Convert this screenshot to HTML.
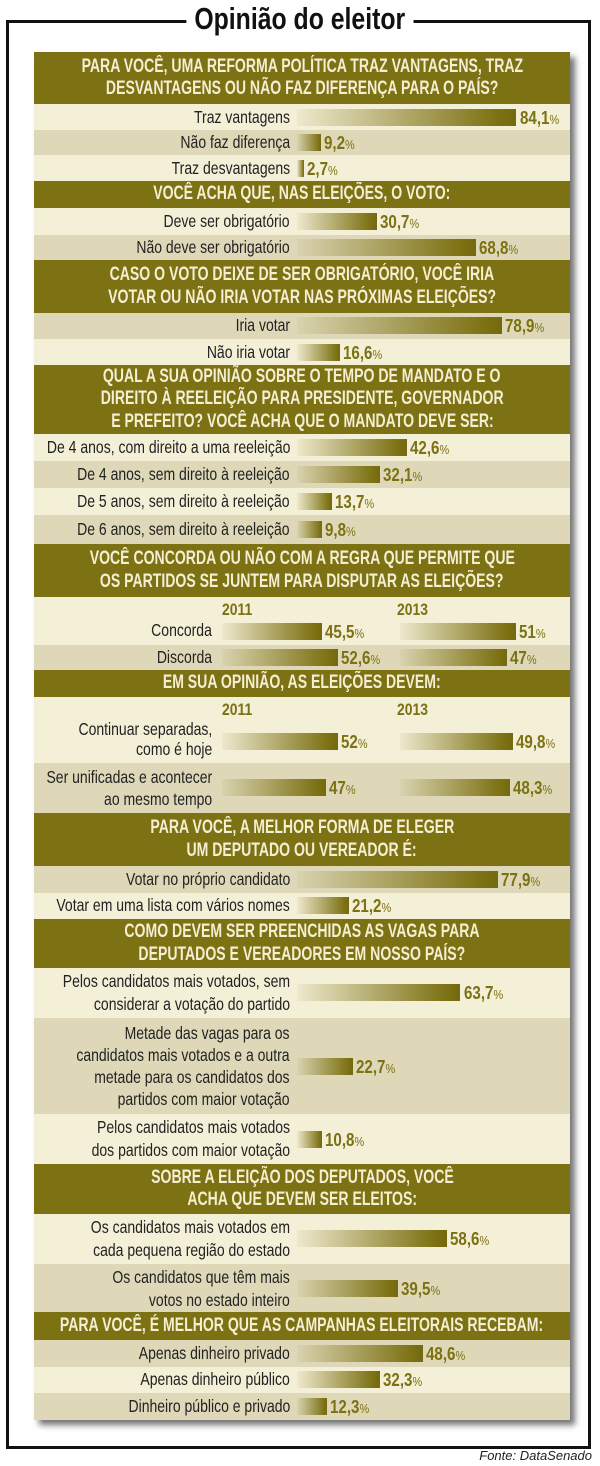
<!DOCTYPE html>
<html><head><meta charset="utf-8"><style>
*{margin:0;padding:0;box-sizing:border-box}
body{width:600px;height:1466px;background:#fff;position:relative;overflow:hidden;font-family:"Liberation Sans",sans-serif}
.frame{position:absolute;left:6px;top:20px;width:585px;height:1429px;border:3px solid #111}
.title{position:absolute;left:0;width:600px;top:1px;text-align:center;height:36px}
.title span{display:inline-block;background:#fff;padding:0 10px;font-weight:bold;font-size:31px;color:#111;line-height:36px;transform:scaleX(.8)}
.panel{position:absolute;left:34px;top:52px;width:536px;height:1368px;box-shadow:5px 5px 6px rgba(0,0,0,.55);overflow:visible}
.h{position:absolute;left:0;width:536px;background:#7c7113;color:#f4eed2;font-weight:bold;font-size:19px;text-align:center;display:flex;flex-direction:column;justify-content:center;align-items:center;line-height:22.5px;white-space:nowrap;overflow:hidden}
.h span{display:block;transform:scaleX(.74)}
.r{position:absolute;left:0;width:536px}
.L{background:#f4efd7}.D{background:#ded8b8}
.lab{position:absolute;right:280px;text-align:right;font-size:17.5px;color:#222;line-height:22.5px;white-space:nowrap;transform:scaleX(.8);transform-origin:right center}
.lab2{right:358px}
.bar{position:absolute;height:17px;background:linear-gradient(to right,rgba(124,113,19,0.05),#7c7113 92%,#74690f)}
.p{position:absolute;font-weight:bold;font-size:18px;color:#7c7113;line-height:17px;white-space:nowrap;transform:scaleX(.84);transform-origin:left center}
.p small{font-size:13px;font-weight:normal}
.yr{position:absolute;font-weight:bold;font-size:17px;color:#7c7113;line-height:18px;transform:scaleX(.82);transform-origin:left center}
.src{position:absolute;right:8px;top:1448px;font-size:13px;font-style:italic;color:#222}
</style></head><body>
<div class="frame"></div>
<div class="title"><span>Opinião do eleitor</span></div>
<div class="panel">
<div class="h" style="top:0;height:52px"><span>PARA VOCÊ, UMA REFORMA POLÍTICA TRAZ VANTAGENS, TRAZ</span><span>DESVANTAGENS OU NÃO FAZ DIFERENÇA PARA O PAÍS?</span></div>
<div class="r L" style="top:52px;height:26px"><div class="lab" style="top:2px">Traz vantagens</div><div class="bar" style="left:263px;top:5px;width:219px"></div><div class="p" style="left:486px;top:6px">84,1<small>%</small></div></div>
<div class="r D" style="top:78px;height:25px"><div class="lab" style="top:1px">Não faz diferença</div><div class="bar" style="left:263px;top:4px;width:24px"></div><div class="p" style="left:290px;top:5px">9,2<small>%</small></div></div>
<div class="r L" style="top:103px;height:26px"><div class="lab" style="top:2px">Traz desvantagens</div><div class="bar" style="left:263px;top:5px;width:7px"></div><div class="p" style="left:273px;top:6px">2,7<small>%</small></div></div>
<div class="h" style="top:129px;height:27px"><span>VOCÊ ACHA QUE, NAS ELEIÇÕES, O VOTO:</span></div>
<div class="r L" style="top:156px;height:27px"><div class="lab" style="top:2px">Deve ser obrigatório</div><div class="bar" style="left:263px;top:5px;width:80px"></div><div class="p" style="left:346px;top:6px">30,7<small>%</small></div></div>
<div class="r D" style="top:183px;height:25px"><div class="lab" style="top:1px">Não deve ser obrigatório</div><div class="bar" style="left:263px;top:4px;width:179px"></div><div class="p" style="left:445px;top:5px">68,8<small>%</small></div></div>
<div class="h" style="top:208px;height:53px"><span>CASO O VOTO DEIXE DE SER OBRIGATÓRIO, VOCÊ IRIA</span><span>VOTAR OU NÃO IRIA VOTAR NAS PRÓXIMAS ELEIÇÕES?</span></div>
<div class="r D" style="top:261px;height:26px"><div class="lab" style="top:1px">Iria votar</div><div class="bar" style="left:263px;top:4px;width:205px"></div><div class="p" style="left:471px;top:5px">78,9<small>%</small></div></div>
<div class="r L" style="top:287px;height:26px"><div class="lab" style="top:2px">Não iria votar</div><div class="bar" style="left:263px;top:5px;width:43px"></div><div class="p" style="left:309px;top:6px">16,6<small>%</small></div></div>
<div class="h" style="top:313px;height:69px"><span>QUAL A SUA OPINIÃO SOBRE O TEMPO DE MANDATO E O</span><span>DIREITO À REELEIÇÃO PARA PRESIDENTE, GOVERNADOR</span><span>E PREFEITO? VOCÊ ACHA QUE O MANDATO DEVE SER:</span></div>
<div class="r L" style="top:382px;height:27px"><div class="lab" style="top:2px">De 4 anos, com direito a uma reeleição</div><div class="bar" style="left:263px;top:5px;width:110px"></div><div class="p" style="left:376px;top:6px">42,6<small>%</small></div></div>
<div class="r D" style="top:409px;height:27px"><div class="lab" style="top:2px">De 4 anos, sem direito à reeleição</div><div class="bar" style="left:263px;top:5px;width:83px"></div><div class="p" style="left:349px;top:6px">32,1<small>%</small></div></div>
<div class="r L" style="top:436px;height:27px"><div class="lab" style="top:2px">De 5 anos, sem direito à reeleição</div><div class="bar" style="left:263px;top:5px;width:35px"></div><div class="p" style="left:301px;top:6px">13,7<small>%</small></div></div>
<div class="r D" style="top:463px;height:29px"><div class="lab" style="top:3px">De 6 anos, sem direito à reeleição</div><div class="bar" style="left:263px;top:6px;width:25px"></div><div class="p" style="left:291px;top:7px">9,8<small>%</small></div></div>
<div class="h" style="top:492px;height:53px"><span>VOCÊ CONCORDA OU NÃO COM A REGRA QUE PERMITE QUE</span><span>OS PARTIDOS SE JUNTEM PARA DISPUTAR AS ELEIÇÕES?</span></div>
<div class="r L" style="top:545px;height:48px"><div class="yr" style="left:188px;top:4px">2011</div><div class="yr" style="left:363px;top:4px">2013</div><div class="lab lab2" style="top:22px">Concorda</div><div class="bar" style="left:188px;top:26px;width:100px"></div><div class="p" style="left:291px;top:27px">45,5<small>%</small></div><div class="bar" style="left:366px;top:26px;width:116px"></div><div class="p" style="left:485px;top:27px">51<small>%</small></div></div>
<div class="r D" style="top:593px;height:25px"><div class="lab lab2" style="top:1px">Discorda</div><div class="bar" style="left:188px;top:4px;width:116px"></div><div class="p" style="left:307px;top:5px">52,6<small>%</small></div><div class="bar" style="left:366px;top:4px;width:107px"></div><div class="p" style="left:476px;top:5px">47<small>%</small></div></div>
<div class="h" style="top:618px;height:27px"><span>EM SUA OPINIÃO, AS ELEIÇÕES DEVEM:</span></div>
<div class="r L" style="top:645px;height:66px"><div class="yr" style="left:188px;top:4px">2011</div><div class="yr" style="left:363px;top:4px">2013</div><div class="lab lab2" style="top:22px;line-height:20px">Continuar separadas,<br>como é hoje</div><div class="bar" style="left:188px;top:36px;width:116px"></div><div class="p" style="left:307px;top:37px">52<small>%</small></div><div class="bar" style="left:366px;top:36px;width:113px"></div><div class="p" style="left:482px;top:37px">49,8<small>%</small></div></div>
<div class="r D" style="top:711px;height:50px"><div class="lab lab2" style="top:3px;line-height:22px">Ser unificadas e acontecer<br>ao mesmo tempo</div><div class="bar" style="left:188px;top:16px;width:104px"></div><div class="p" style="left:295px;top:17px">47<small>%</small></div><div class="bar" style="left:366px;top:16px;width:110px"></div><div class="p" style="left:479px;top:17px">48,3<small>%</small></div></div>
<div class="h" style="top:761px;height:53px"><span>PARA VOCÊ, A MELHOR FORMA DE ELEGER</span><span>UM DEPUTADO OU VEREADOR É:</span></div>
<div class="r D" style="top:814px;height:27px"><div class="lab" style="top:2px">Votar no próprio candidato</div><div class="bar" style="left:263px;top:5px;width:201px"></div><div class="p" style="left:467px;top:6px">77,9<small>%</small></div></div>
<div class="r L" style="top:841px;height:26px"><div class="lab" style="top:1px">Votar em uma lista com vários nomes</div><div class="bar" style="left:263px;top:4px;width:52px"></div><div class="p" style="left:318px;top:5px">21,2<small>%</small></div></div>
<div class="h" style="top:867px;height:49px"><span>COMO DEVEM SER PREENCHIDAS AS VAGAS PARA</span><span>DEPUTADOS E VEREADORES EM NOSSO PAÍS?</span></div>
<div class="r L" style="top:916px;height:50px"><div class="lab" style="top:2px">Pelos candidatos mais votados, sem<br>considerar a votação do partido</div><div class="bar" style="left:263px;top:16px;width:163px"></div><div class="p" style="left:430px;top:17px">63,7<small>%</small></div></div>
<div class="r D" style="top:966px;height:96px"><div class="lab" style="top:4px;line-height:22px">Metade das vagas para os<br>candidatos mais votados e a outra<br>metade para os candidatos dos<br>partidos com maior votação</div><div class="bar" style="left:263px;top:40px;width:56px"></div><div class="p" style="left:322px;top:41px">22,7<small>%</small></div></div>
<div class="r L" style="top:1062px;height:50px"><div class="lab" style="top:2px">Pelos candidatos mais votados<br>dos partidos com maior votação</div><div class="bar" style="left:263px;top:17px;width:25px"></div><div class="p" style="left:291px;top:18px">10,8<small>%</small></div></div>
<div class="h" style="top:1112px;height:50px"><span>SOBRE A ELEIÇÃO DOS DEPUTADOS, VOCÊ</span><span>ACHA QUE DEVEM SER ELEITOS:</span></div>
<div class="r L" style="top:1162px;height:50px"><div class="lab" style="top:2px">Os candidatos mais votados em<br>cada pequena região do estado</div><div class="bar" style="left:263px;top:16px;width:150px"></div><div class="p" style="left:416px;top:17px">58,6<small>%</small></div></div>
<div class="r D" style="top:1212px;height:48px"><div class="lab" style="top:2px">Os candidatos que têm mais<br>votos no estado inteiro</div><div class="bar" style="left:263px;top:16px;width:101px"></div><div class="p" style="left:367px;top:17px">39,5<small>%</small></div></div>
<div class="h" style="top:1260px;height:28px"><span>PARA VOCÊ, É MELHOR QUE AS CAMPANHAS ELEITORAIS RECEBAM:</span></div>
<div class="r D" style="top:1288px;height:27px"><div class="lab" style="top:2px">Apenas dinheiro privado</div><div class="bar" style="left:263px;top:5px;width:126px"></div><div class="p" style="left:392px;top:6px">48,6<small>%</small></div></div>
<div class="r L" style="top:1315px;height:26px"><div class="lab" style="top:1px">Apenas dinheiro público</div><div class="bar" style="left:263px;top:4px;width:83px"></div><div class="p" style="left:349px;top:5px">32,3<small>%</small></div></div>
<div class="r D" style="top:1341px;height:27px"><div class="lab" style="top:2px">Dinheiro público e privado</div><div class="bar" style="left:263px;top:5px;width:30px"></div><div class="p" style="left:296px;top:6px">12,3<small>%</small></div></div>
</div>
<div class="src">Fonte: DataSenado</div>
</body></html>
